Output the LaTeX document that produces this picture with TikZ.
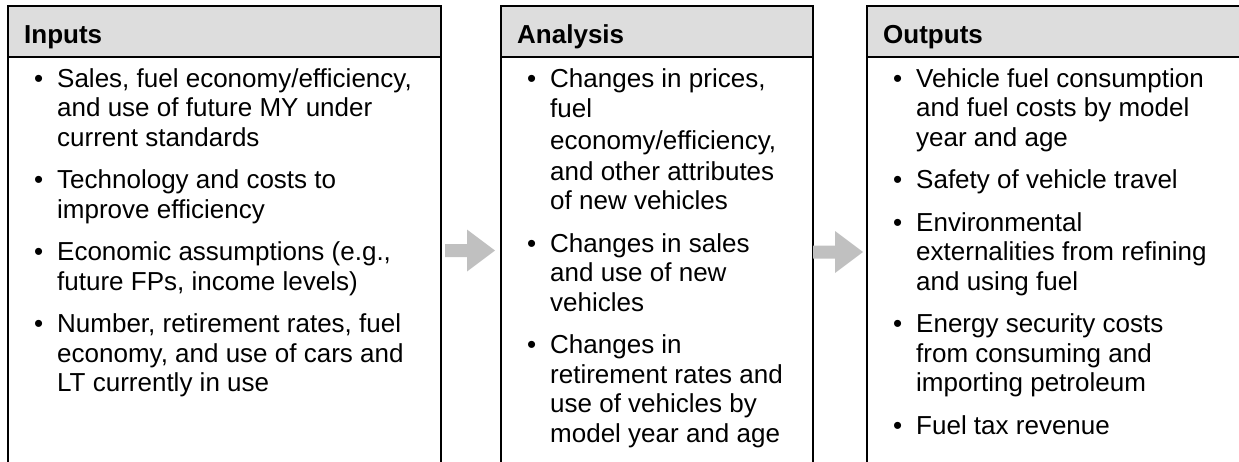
\documentclass[tikz,border=0pt]{standalone}
\usepackage{fontspec}
\setmainfont{Liberation Sans}
\definecolor{hdrgray}{RGB}{221,221,221}
\definecolor{arrgray}{RGB}{192,192,192}
\newcommand\tline[4]{\node[txt] (#1) at (#2,#3) {#4};}
\newcommand\tbul[3]{\node[txt] (#1) at (#2,#3) {\textbullet};}
\begin{document}
\begin{tikzpicture}[x=1pt,y=-1pt,
  box/.style={draw=black,line width=1.4pt,anchor=north west,inner sep=0pt,outer sep=0pt,minimum height=490pt},
  hdr/.style={draw=black,fill=hdrgray,line width=1.4pt,anchor=north west,inner sep=0pt,outer sep=0pt,minimum height=51pt},
  ttl/.style={anchor=base west,inner sep=0pt,font=\fontsize{26}{29.5}\selectfont\bfseries},
  txt/.style={anchor=base west,inner sep=0pt,font=\fontsize{26}{29.5}\selectfont},
  arr/.style={fill=arrgray}]
\useasboundingbox (0,0) rectangle (1239,461);
\clip (0,0) rectangle (1239,461);
% boxes
\node[box,minimum width=433pt] (inbox) at (8,6) {};
\node[hdr,minimum width=433pt] (inhdr) at (8,6) {};
\node[box,minimum width=312pt] (anbox) at (501,6) {};
\node[hdr,minimum width=312pt] (anhdr) at (501,6) {};
\node[box,minimum width=376pt] (outbox) at (867,6) {};
\node[hdr,minimum width=376pt] (outhdr) at (867,6) {};
% titles
\node[ttl] (tin) at (24,43) {Inputs};
\node[ttl] (tan) at (517,43) {Analysis};
\node[ttl] (tout) at (883,43) {Outputs};
% Inputs
\tbul{ib1}{34}{87}
\tline{i1}{57}{87}{Sales, fuel economy/efficiency,}
\tline{i2}{57}{116.5}{and use of future MY under}
\tline{i3}{57}{146}{current standards}
\tbul{ib2}{34}{188.5}
\tline{i4}{57}{188.5}{Technology and costs to}
\tline{i5}{57}{218}{improve efficiency}
\tbul{ib3}{34}{260.5}
\tline{i6}{57}{260.5}{Economic assumptions (e.g.,}
\tline{i7}{57}{290}{future FPs, income levels)}
\tbul{ib4}{34}{332.5}
\tline{i8}{57}{332.5}{Number, retirement rates, fuel}
\tline{i9}{57}{362}{economy, and use of cars and}
\tline{i10}{57}{391.5}{LT currently in use}
% Analysis
\tbul{ab1}{527}{87}
\tline{a1}{550}{87}{Changes in prices,}
\tline{a2}{550}{117.5}{fuel}
\tline{a3}{550}{149.5}{economy/efficiency,}
\tline{a4}{550}{180}{and other attributes}
\tline{a5}{550}{209.5}{of new vehicles}
\tbul{ab2}{527}{252}
\tline{a6}{550}{252}{Changes in sales}
\tline{a7}{550}{281.5}{and use of new}
\tline{a8}{550}{311}{vehicles}
\tbul{ab3}{527}{353.5}
\tline{a9}{550}{353.5}{Changes in}
\tline{a10}{550}{383}{retirement rates and}
\tline{a11}{550}{412.5}{use of vehicles by}
\tline{a12}{550}{442}{model year and age}
% Outputs
\tbul{ob1}{893}{87}
\tline{o1}{916}{87}{Vehicle fuel consumption}
\tline{o2}{916}{116.5}{and fuel costs by model}
\tline{o3}{916}{146}{year and age}
\tbul{ob2}{893}{188.5}
\tline{o4}{916}{188.5}{Safety of vehicle travel}
\tbul{ob3}{893}{231}
\tline{o5}{916}{231}{Environmental}
\tline{o6}{916}{260.5}{externalities from refining}
\tline{o7}{916}{290}{and using fuel}
\tbul{ob4}{893}{332.5}
\tline{o8}{916}{332.5}{Energy security costs}
\tline{o9}{916}{362}{from consuming and}
\tline{o10}{916}{391.5}{importing petroleum}
\tbul{ob5}{893}{434}
\tline{o11}{916}{434}{Fuel tax revenue}
% block arrows
\fill[arr] (445,244) -- (467,244) -- (467,229.5) -- (495,250.5) -- (467,271.5) -- (467,257) -- (445,257) -- cycle;
\fill[arr] (813,245.5) -- (835,245.5) -- (835,231) -- (863,252) -- (835,273) -- (835,258.5) -- (813,258.5) -- cycle;
\end{tikzpicture}
\end{document}
